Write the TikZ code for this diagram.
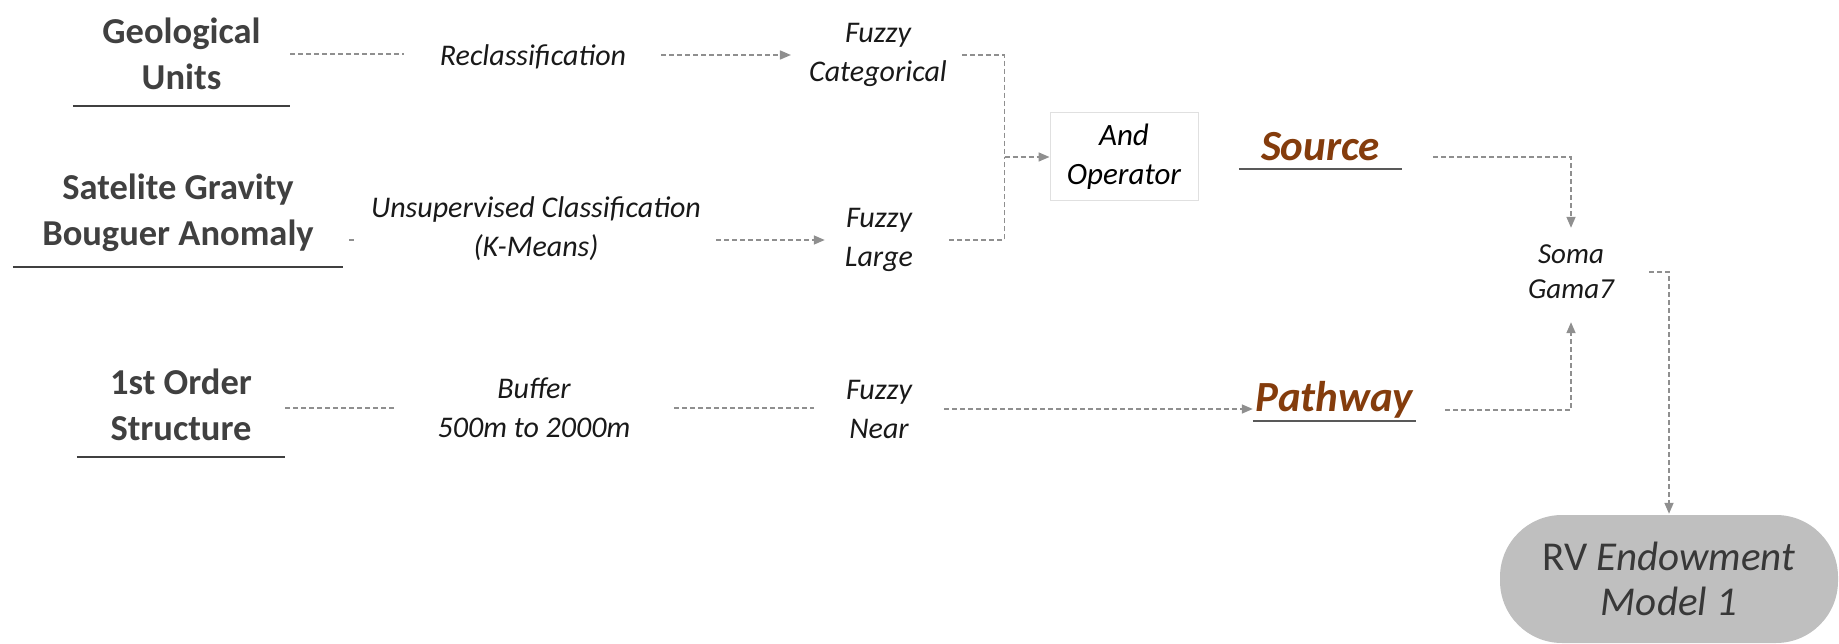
\documentclass[tikz,border=0pt]{standalone}
\usepackage{fontspec}
\setmainfont{Carlito}
\usetikzlibrary{arrows.meta, positioning, calc}

\definecolor{linkgray}{HTML}{8F8F8F}
\definecolor{inputgray}{HTML}{404040}
\definecolor{factorbrown}{HTML}{843C0C}
\definecolor{pillgray}{HTML}{BFBFBF}

\tikzset{
  link/.style={draw=linkgray, line width=1.6pt, dash pattern=on 5pt off 3pt},
  tip/.style={-{Triangle[length=11pt,width=9pt]}, linkgray},
  inputbox/.style={inner sep=0pt, align=center, text=inputgray, font=\fontsize{36.5}{46}\selectfont\bfseries},
  steplabel/.style={inner sep=0pt, align=center, text=black!90, font=\fontsize{30}{39}\selectfont\itshape},
  factorlabel/.style={inner sep=0pt, align=center, text=factorbrown, font=\fontsize{43}{50}\selectfont\bfseries\itshape},
  uline/.style={draw=black!75, line width=2.2pt},
  opbox/.style={draw=black!12, line width=1pt, inner sep=0pt, align=center, minimum width=148pt, minimum height=88pt, font=\fontsize{31}{39}\selectfont\itshape},
  pill/.style={fill=pillgray, rounded corners=62pt, inner sep=0pt, align=center, minimum width=338pt, minimum height=128pt, text=black!78, font=\fontsize{41}{45}\selectfont},
}

\begin{document}
\begin{tikzpicture}[x=1pt, y=-1pt]
    \useasboundingbox (0,0) rectangle (1839,644);
    \clip (0,0) rectangle (1839,644);

    % Input layers (left column)
    \node[inputbox, minimum width=217pt, minimum height=104pt] (geo) at (181.5,54) {Geological\\Units};
    \node[inputbox, minimum width=330pt, minimum height=108pt] (grav) at (178,213) {Satelite Gravity\\Bouguer Anomaly};
    \node[inputbox, minimum width=208pt, minimum height=104pt] (struct) at (181,405) {1st Order\\Structure};
    \draw[uline] (geo.south west) -- (geo.south east);
    \draw[uline] (grav.south west) -- (grav.south east);
    \draw[uline] (struct.south west) -- (struct.south east);

    % Processing steps
    \node[steplabel] (reclass) at (533,57) {Reclassification};
    \node[steplabel] (unsup) at (536,229) {Unsupervised Classification\\(K-Means)};
    \node[steplabel] (buffer) at (534,408) {Buffer\\500m to 2000m};

    % Fuzzy memberships
    \node[steplabel] (fcat) at (878,55) {Fuzzy\\Categorical};
    \node[steplabel] (flarge) at (879,240) {Fuzzy\\Large};
    \node[steplabel] (fnear) at (879,409) {Fuzzy\\Near};

    % Combination
    \node[opbox] (andop) at (1124,157) {And\\Operator};
    \coordinate (merge) at ($(andop.west)+(-45,0)$);
    \node[factorlabel, minimum width=163pt, minimum height=44pt] (source) at (1320.5,147) {Source};
    \node[factorlabel, minimum width=163pt, minimum height=42pt] (pathway) at (1334.5,400) {Pathway};
    \draw[uline, line width=1.8pt, draw=black!65] (source.south west) -- (source.south east);
    \draw[uline, line width=1.8pt, draw=black!65] (pathway.south west) -- (pathway.south east);
    \node[steplabel, font=\fontsize{29}{35}\selectfont\itshape] (soma) at (1571,272) {Soma\\Gama7};
    \node[pill] (rv) at (1669,579) {RV \textit{Endowment}\\\textit{Model 1}};

    % Row 1
    \draw[link, shorten >=36pt] (geo.east) -- (geo.east -| reclass.west);
    \draw[link, tip, shorten <=35pt, shorten >=18pt] (reclass.east |- fcat.west) -- (fcat.west);
    \draw[link, shorten <=15pt] (fcat.east) -| (merge);

    % Row 2
    \draw[link] ([xshift=6pt]grav.east |- flarge.west) -- ++(6,0);
    \draw[link, tip, shorten <=15pt, shorten >=20pt] (unsup.east |- flarge.west) -- (flarge.west);
    \draw[link, shorten <=36pt] (flarge.east) -| (merge);
    \draw[link, tip] (merge) -- (andop.west);

    % Row 3
    \draw[link, shorten >=43pt] (struct.east |- buffer.west) -- (buffer.west);
    \draw[link, shorten <=44pt, shorten >=32pt] (buffer.east) -- (buffer.east -| fnear.west);
    \draw[link, tip, shorten <=32pt] (fnear.east) -- (fnear.east -| pathway.west);

    % Towards the model
    \draw[link, tip, shorten <=31pt, shorten >=17pt] ([yshift=-10pt]source.east) -| (soma.north);
    \draw[link, tip, shorten <=29pt, shorten >=23pt] ([yshift=-10pt]pathway.east) -| (soma.south);
    \draw[link, tip, shorten <=35pt, shorten >=1pt] (soma.east) -| (rv.north);
\end{tikzpicture}
\end{document}
